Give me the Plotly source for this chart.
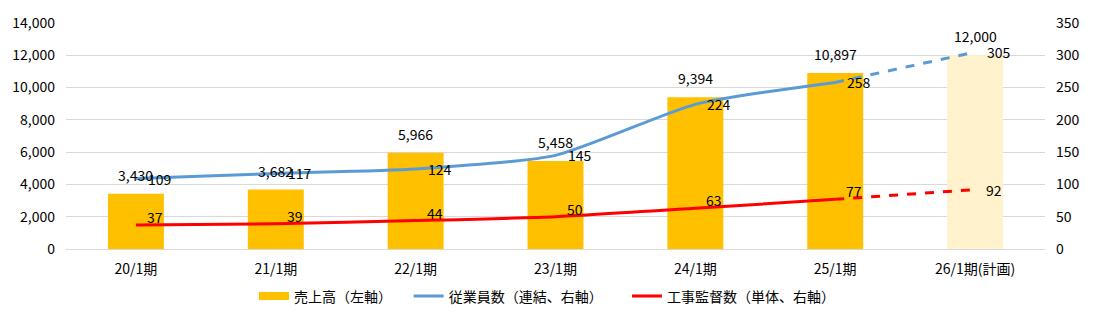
import plotly.graph_objects as go

# 期別データ
periods = ["20/1期", "21/1期", "22/1期", "23/1期", "24/1期", "25/1期", "26/1期(計画)"]
sales = [3430, 3682, 5966, 5458, 9394, 10897, 12000]          # 売上高(百万円)
employees = [109, 117, 124, 145, 224, 258, 305]                # 従業員数(連結)
supervisors = [37, 39, 44, 50, 63, 77, 92]                     # 工事監督数(単体)
n_actual = 6  # 実績の期数(最後は計画値)

FONT = "Noto Sans CJK JP, Noto Sans, sans-serif"
FS = 14
BAR_COLOR = "#FFC000"
PLAN_BAR_COLOR = "#FFF2CC"
BLUE = "#5B9BD5"
RED = "#FF0000"

fig = go.Figure()

# 売上高(左軸)
fig.add_trace(go.Bar(
    x=periods, y=sales, name="売上高（左軸）",
    marker=dict(color=[BAR_COLOR] * n_actual + [PLAN_BAR_COLOR] * (len(periods) - n_actual),
                line=dict(width=0)),
    width=0.4, yaxis="y", showlegend=False,
))
# 凡例用(帯状の記号)
fig.add_trace(go.Scatter(
    x=[None], y=[None], name="売上高（左軸）", mode="lines",
    line=dict(color=BAR_COLOR, width=8), legend="legend",
))

def add_series(values, name, color, legend_id):
    # 実績: 実線
    fig.add_trace(go.Scatter(
        x=periods[:n_actual], y=values[:n_actual], name=name, yaxis="y2",
        mode="lines", line=dict(color=color, width=3, shape="spline", smoothing=0.6),
        legendgroup=name, legend=legend_id,
    ))
    # 計画: 破線
    fig.add_trace(go.Scatter(
        x=periods[n_actual - 1:], y=values[n_actual - 1:], name=name, yaxis="y2",
        mode="lines", line=dict(color=color, width=3, dash="dash", shape="spline"),
        legendgroup=name, showlegend=False, legend=legend_id,
    ))

add_series(employees, "従業員数（連結、右軸）", BLUE, "legend2")
add_series(supervisors, "工事監督数（単体、右軸）", RED, "legend3")

annotations = []
label_font = dict(family=FONT, size=FS, color="#000000")
# 売上高ラベル(棒の上)
for p, v in zip(periods, sales):
    annotations.append(dict(x=p, y=v, xref="x", yref="y", text=f"{v:,}",
                            showarrow=False, yanchor="bottom", yshift=7,
                            font=label_font))
# 従業員数ラベル(点の右)
for p, v in zip(periods, employees):
    annotations.append(dict(x=p, y=v, xref="x", yref="y2", text=str(v),
                            showarrow=False, xanchor="left", xshift=10,
                            font=label_font))
# 工事監督数ラベル(点の右上)
for i, (p, v) in enumerate(zip(periods, supervisors)):
    annotations.append(dict(x=p, y=v, xref="x", yref="y2", text=str(v),
                            showarrow=False, xanchor="left", xshift=9,
                            yshift=8 if i < n_actual else 0,
                            font=label_font))

legend_common = dict(orientation="h", y=-0.21, yanchor="middle", xanchor="left",
                     font=dict(family=FONT, size=FS), itemwidth=30,
                     bgcolor="rgba(0,0,0,0)", borderwidth=0)

fig.update_layout(
    width=1093, height=325,
    margin=dict(l=65, r=48, t=16, b=74),
    paper_bgcolor="white", plot_bgcolor="white",
    font=dict(family=FONT, size=FS, color="#000000"),
    xaxis=dict(showgrid=False, showline=False, ticks="", ticklabelstandoff=10,
               tickfont=dict(size=FS)),
    yaxis=dict(range=[0, 14000], dtick=2000, tickformat=",", showgrid=True,
               gridcolor="#D9D9D9", gridwidth=1, zeroline=True, zerolinecolor="#D9D9D9",
               zerolinewidth=1, ticks="", ticklabelstandoff=10, tickfont=dict(size=FS)),
    yaxis2=dict(range=[0, 350], dtick=50, overlaying="y", side="right", showgrid=False,
                zeroline=False, ticks="", ticklabelstandoff=10, tickfont=dict(size=FS)),
    legend=dict(x=0.192, **legend_common),
    legend2=dict(x=0.350, **legend_common),
    legend3=dict(x=0.573, **legend_common),
    annotations=annotations,
)

fig.write_html("out.html")
